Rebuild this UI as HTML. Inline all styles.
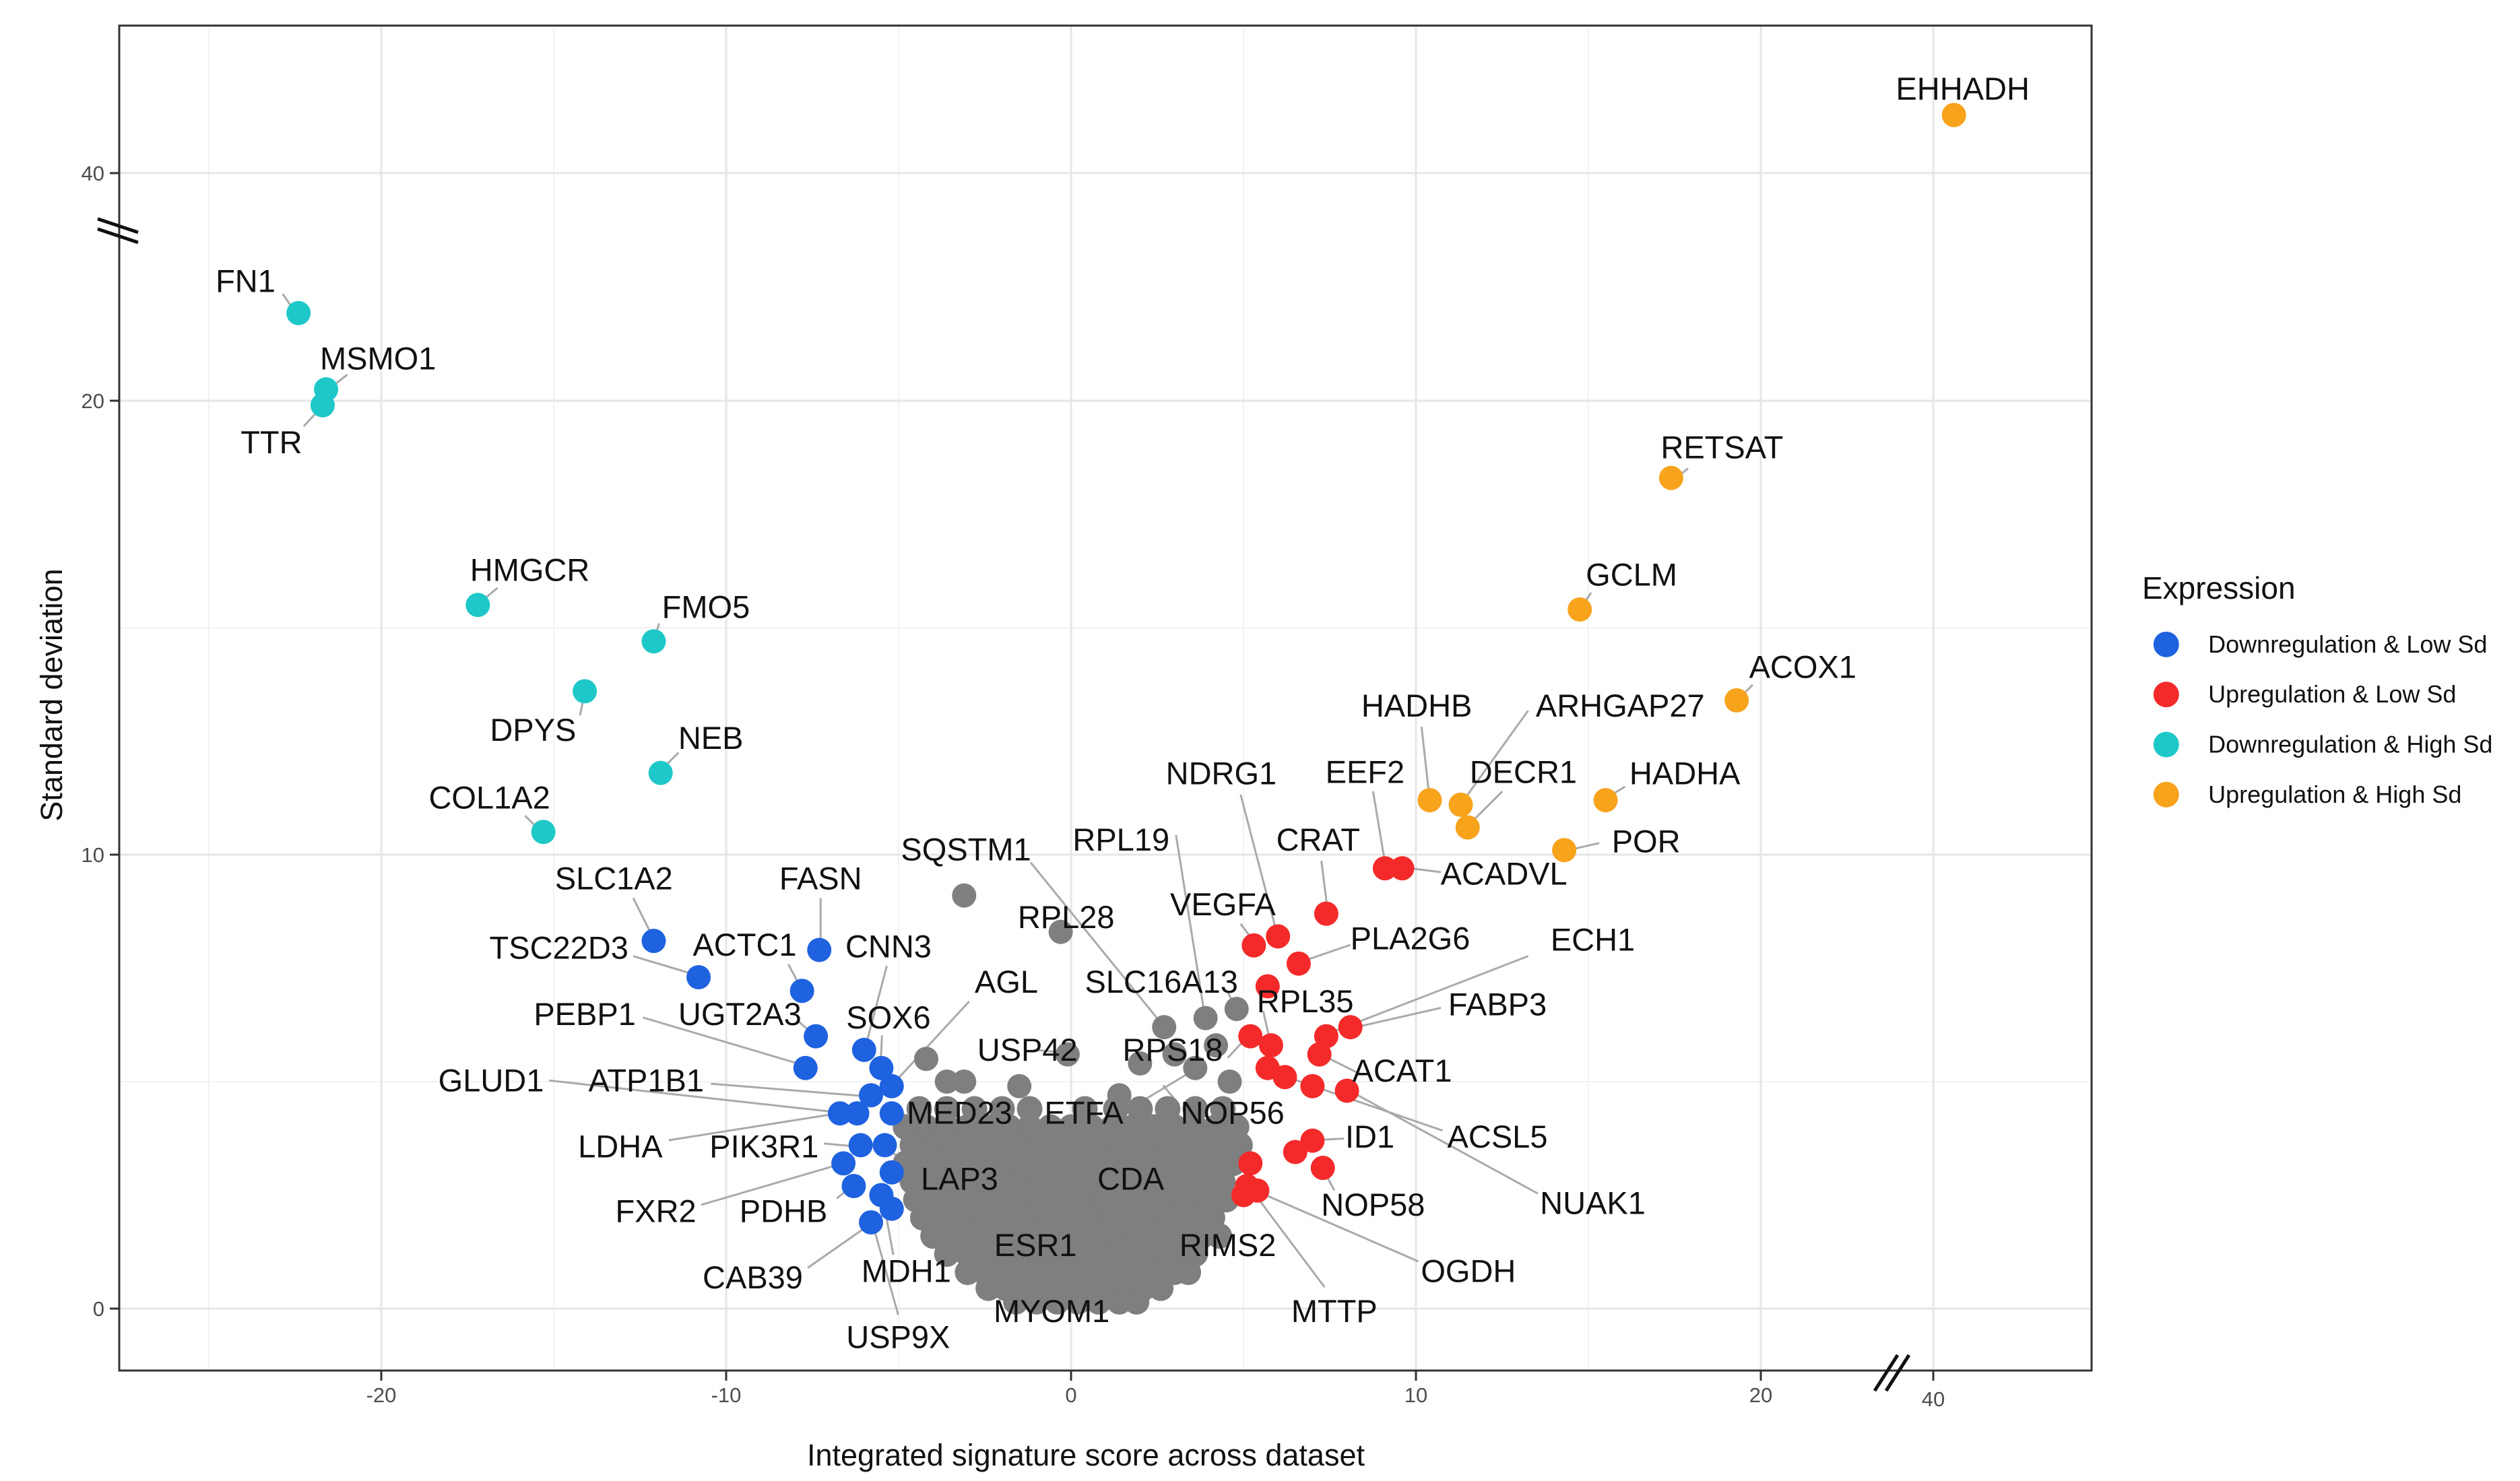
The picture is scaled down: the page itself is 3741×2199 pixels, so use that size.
<!DOCTYPE html>
<html><head><meta charset="utf-8"><style>
html,body{margin:0;padding:0;background:#fff;}
svg{display:block;font-family:"Liberation Sans",sans-serif;}
</style></head><body>
<svg id="chart" width="3741" height="2199" viewBox="0 0 3741 2199" xmlns="http://www.w3.org/2000/svg">
<rect x="0" y="0" width="3741" height="2199" fill="#fff"/>
<g id="grid"></g>
<g id="leaders"></g>
<g id="points"></g>
<g id="labels"></g>
<rect x="177" y="38" width="2928" height="1997" fill="none" stroke="#333" stroke-width="3"/>
<g id="axes"></g>
<text x="1612" y="2176" font-size="45" text-anchor="middle" fill="#111">Integrated signature score across dataset</text>
<text x="0" y="0" font-size="45" text-anchor="middle" fill="#111" transform="translate(92,1032) rotate(-90)">Standard deviation</text>
<g id="legend">
<text x="3180" y="889" font-size="46" fill="#111">Expression</text>
</g>
</svg>
<script>
// ---- data ----
const xTicks = [-20, -10, 0, 10, 20, 40];
const xTickLabels = ["-20", "-10", "0", "10", "20", "40"];
const xMinor = [-25, -15, -5, 5, 15];
const yTicks = [0, 10, 20, 40];
const yTickLabels = ["0", "10", "20", "40"];
const yMinor = [5, 15];
const groupNames = ["Downregulation & Low Sd", "Upregulation & Low Sd", "Downregulation & High Sd", "Upregulation & High Sd"];
const groupColors = ["#1f62e0", "#f42a2a", "#1fc8c8", "#f7a31c"];
const cyanX = [-22.4, -21.6, -21.7, -17.2, -12.1, -14.1, -11.9, -15.3];
const cyanY = [27.7, 21.0, 19.9, 15.5, 14.7, 13.6, 11.8, 10.5];
const orangeX = [42.4, 17.4, 14.75, 19.3, 10.4, 11.3, 11.5, 15.5, 14.3];
const orangeY = [45.1, 18.3, 15.4, 13.4, 11.2, 11.1, 10.6, 11.2, 10.1];
const redX = [9.1, 9.6, 7.4, 5.3, 6.0, 6.6, 5.7, 8.1, 7.4, 5.2, 5.8, 7.2, 5.7, 6.2, 7.0, 8.0, 7.0, 6.5, 7.3, 5.2, 5.1, 5.4, 5.0];
const redY = [9.7, 9.7, 8.7, 8.0, 8.2, 7.6, 7.1, 6.2, 6.0, 6.0, 5.8, 5.6, 5.3, 5.1, 4.9, 4.8, 3.7, 3.45, 3.1, 3.2, 2.7, 2.6, 2.5];
const blueX = [-12.1, -7.3, -10.8, -7.8, -7.4, -7.7, -6.0, -5.5, -5.2, -5.8, -6.7, -6.2, -5.2, -6.1, -5.4, -6.6, -5.2, -6.3, -5.5, -5.2, -5.8];
const blueY = [8.1, 7.9, 7.3, 7.0, 6.0, 5.3, 5.7, 5.3, 4.9, 4.7, 4.3, 4.3, 4.3, 3.6, 3.6, 3.2, 3.0, 2.7, 2.5, 2.2, 1.9];
const grayOutX = [-3.1, -0.3, 2.7, 3.9, 4.8, -0.1, -4.2, -3.6, -3.1, -1.5, 1.4, 2.0, 3.6, 4.6, 3.0, 4.2];
const grayOutY = [9.1, 8.3, 6.2, 6.4, 6.6, 5.6, 5.5, 5.0, 5.0, 4.9, 4.7, 5.4, 5.3, 5.0, 5.6, 5.8];
const grayRowY = [4.4, 4.0, 3.6, 3.2, 2.8, 2.4, 2.0, 1.6, 1.2, 0.8, 0.45, 0.15];
const grayRowX = [
 [-4.4, -3.6, -2.8, -2.0, -1.2, 0.4, 1.3, 2.0, 2.8, 3.6, 4.4],
 [-4.8, -4.2, -3.6, -3.0, -2.4, -1.8, -1.2, -0.6, 0, 0.6, 1.2, 1.8, 2.4, 3.0, 3.6, 4.2, 4.8],
 [-4.6, -4.0, -3.4, -2.8, -2.2, -1.6, -1.0, -0.4, 0.2, 0.8, 1.4, 2.0, 2.6, 3.2, 3.8, 4.4, 4.9],
 [-4.8, -4.2, -3.6, -3.0, -2.4, -1.8, -1.2, -0.6, 0, 0.6, 1.2, 1.8, 2.4, 3.0, 3.6, 4.2, 4.7],
 [-4.6, -4.0, -3.4, -2.8, -2.2, -1.6, -1.0, -0.4, 0.2, 0.8, 1.4, 2.0, 2.6, 3.2, 3.8, 4.4],
 [-4.5, -3.9, -3.3, -2.7, -2.1, -1.5, -0.9, -0.3, 0.3, 0.9, 1.5, 2.1, 2.7, 3.3, 3.9, 4.5],
 [-4.3, -3.7, -3.1, -2.5, -1.9, -1.3, -0.7, -0.1, 0.5, 1.1, 1.7, 2.3, 2.9, 3.5, 4.1],
 [-4.0, -3.4, -2.8, -2.2, -1.6, -1.0, -0.4, 0.2, 0.8, 1.4, 2.0, 2.6, 3.2, 3.8, 4.3],
 [-3.6, -3.0, -2.4, -1.8, -1.2, -0.6, 0, 0.6, 1.2, 1.8, 2.4, 3.0, 3.6],
 [-3.0, -2.5, -2.0, -1.5, -1.0, -0.5, 0, 0.5, 1.0, 1.5, 2.0, 2.5, 3.0, 3.4],
 [-2.4, -1.9, -1.4, -0.9, -0.4, 0.1, 0.6, 1.1, 1.6, 2.1, 2.6],
 [-1.6, -1.0, -0.4, 0.2, 0.8, 1.4, 1.9]
];
// label annotations (reference-display units, scaled below)
const labelText = ["EHHADH","FN1","MSMO1","TTR","HMGCR","FMO5","DPYS","NEB","COL1A2","SLC1A2","FASN","TSC22D3","ACTC1","CNN3","PEBP1","UGT2A3","SOX6","AGL","USP42","GLUD1","ATP1B1","LDHA","PIK3R1","MED23","ETFA","NOP56","FXR2","PDHB","LAP3","CDA","ID1","NOP58","ACSL5","NUAK1","OGDH","MTTP","RIMS2","ESR1","CAB39","MDH1","USP9X","MYOM1","RPS18","RPL35","SLC16A13","FABP3","ECH1","ACAT1","PLA2G6","VEGFA","CRAT","NDRG1","RPL19","SQSTM1","RPL28","EEF2","ACADVL","HADHB","ARHGAP27","DECR1","HADHA","POR","ACOX1","GCLM","RETSAT"];
const labelPos = [[1215,55],[152,174],[234,222],[168,274],[328,353],[437,376],[330,452],[440,457],[303,494],[380,544],[508,544],[346,587],[461,585],[550,586],[362,628],[458,628],[550,630],[623,608],[636,650],[304,669],[400,669],[384,710],[473,710],[594,689],[671,689],[763,689],[406,750],[485,750],[594,730],[700,730],[848,704],[850,746],[927,704],[986,745],[909,787],[826,812],[760,771],[641,771],[466,791],[561,787],[556,828],[651,812],[726,650],[808,620],[719,608],[927,622],[986,582],[868,663],[873,581],[757,560],[816,520],[756,479],[694,520],[598,526],[660,568],[845,478],[931,541],[877,437],[1003,437],[943,478],[1043,479],[1019,521],[1116,413],[1010,356],[1066,277]];
const leaderSeg = [[1212,66,1210,72],[175,182,184,195],[215,232,202,242],[188,264,200,251],[308,364,296,374],[408,386,405,396],[359,443,362,429],[420,466,408,478],[325,505,336,516],[392,556,405,582],[508,556,508,587],[392,592,432,604],[488,597,497,614],[549,598,535,651],[398,630,499,660],[494,632,505,642],[546,641,545,662],[600,620,553,671],[640,650,660,652],[340,669,521,689],[440,671,539,679],[414,706,521,689],[510,708,532,710],[560,690,553,690],[700,686,740,662],[730,684,720,672],[434,746,523,720],[518,742,529,733],[566,726,552,725],[728,726,775,720],[832,705,812,706],[826,737,818,722],[893,700,797,667],[952,739,833,674],[878,781,779,738],[820,797,772,733],[740,762,735,755],[612,762,548,710],[500,785,553,748],[553,777,546,739],[556,814,540,757],[614,800,553,690],[760,655,773,641],[782,626,787,648],[760,614,765,625],[892,624,835,637],[946,592,822,640],[842,665,818,653],[836,585,804,596],[768,572,777,584],[818,533,822,565],[768,492,791,580],[728,517,746,630],[638,534,720,635],[658,576,657,576],[850,490,858,538],[892,540,868,537],[880,450,885,495],[946,440,905,497],[930,490,909,511],[1006,487,993,495],[990,522,968,527],[1085,424,1075,434],[985,367,978,377],[1045,290,1035,298]];

// ---- scales ----
const S = 3741 / 1560;
function xs(v) { return v <= 20 ? 1590 + v * 51.2 : 2614 + (v - 20) * 12.8; }
function ys(v) { return v <= 20 ? 1943 - v * 67.4 : 595 - (v - 20) * 16.9; }
const NS = "http://www.w3.org/2000/svg";
function mk(tag, attrs, parent) {
  const e = document.createElementNS(NS, tag);
  for (const k in attrs) e.setAttribute(k, attrs[k]);
  parent.appendChild(e);
  return e;
}
const grid = document.getElementById('grid');
const axes = document.getElementById('axes');
xMinor.forEach(v => { const l = mk('line', {x1: xs(v), x2: xs(v), y1: 38, y2: 2035, stroke: '#f2f2f2', 'stroke-width': 2}, grid);
  
   });
yMinor.forEach(v => { const l = mk('line', {x1: 177, x2: 3105, y1: ys(v), y2: ys(v), stroke: '#f2f2f2', 'stroke-width': 2}, grid);
  
   });
xTicks.forEach((v, i) => {
  const l = mk('line', {x1: xs(v), x2: xs(v), y1: 38, y2: 2035, stroke: '#e6e6e6', 'stroke-width': 3}, grid);
  
  
  const t = mk('line', {x1: xs(v), x2: xs(v), y1: 2035, y2: 2050, stroke: '#333', 'stroke-width': 3}, axes);
  
  
  const tx = mk('text', {x: xs(v), y: v === 40 ? 2088 : 2082, 'font-size': 31, 'text-anchor': 'middle', fill: '#4d4d4d'}, axes);
  tx.textContent = xTickLabels[i];
  
  
});
yTicks.forEach((v, i) => {
  const l = mk('line', {x1: 177, x2: 3105, y1: ys(v), y2: ys(v), stroke: '#e6e6e6', 'stroke-width': 3}, grid);
  
  
  const t = mk('line', {x1: 163, x2: 177, y1: ys(v), y2: ys(v), stroke: '#333', 'stroke-width': 3}, axes);
  
  
  const tx = mk('text', {x: 155, y: ys(v) + 11, 'font-size': 31, 'text-anchor': 'end', fill: '#4d4d4d'}, axes);
  tx.textContent = yTickLabels[i];
  
  
});
// axis break marks
[[145, 325, 205, 345], [145, 340, 205, 360]].forEach(b => {
  const l = mk('line', {x1: b[0], y1: b[1], x2: b[2], y2: b[3], stroke: '#111', 'stroke-width': 5}, axes);
  
  
});
[[2783, 2065, 2817, 2012], [2800, 2065, 2834, 2012]].forEach(b => {
  const l = mk('line', {x1: b[0], y1: b[1], x2: b[2], y2: b[3], stroke: '#111', 'stroke-width': 5}, axes);
  
  
});
// leaders
const leaders = document.getElementById('leaders');
leaderSeg.forEach(s => {
  const l = mk('line', {x1: s[0] * S, y1: s[1] * S, x2: s[2] * S, y2: s[3] * S, stroke: '#aaaaaa', 'stroke-width': 3}, leaders);
  
  
});
// points
const pts = document.getElementById('points');
const R = 18;
grayRowY.forEach((y, r) => grayRowX[r].forEach(x => {
  const c = mk('circle', {cx: xs(x), cy: ys(y), r: R + 1, fill: '#7f7f7f'}, pts);
  
  
}));
grayOutX.forEach((x, i) => {
  const c = mk('circle', {cx: xs(x), cy: ys(grayOutY[i]), r: R, fill: '#7f7f7f'}, pts);
  
  
});
[[blueX, blueY, 0, 'point-down-low-sd'], [redX, redY, 1, 'point-up-low-sd'], [cyanX, cyanY, 2, 'point-down-high-sd'], [orangeX, orangeY, 3, 'point-up-high-sd']].forEach(g => {
  g[0].forEach((x, i) => {
    const c = mk('circle', {cx: xs(x), cy: ys(g[1][i]), r: R, fill: groupColors[g[2]]}, pts);
    
    
  });
});
// labels
const labels = document.getElementById('labels');
labelText.forEach((t, i) => {
  const tx = mk('text', {x: labelPos[i][0] * S, y: labelPos[i][1] * S + 16, 'font-size': 47, 'text-anchor': 'middle', fill: '#111'}, labels);
  tx.textContent = t;
  
  
});
// legend
const legend = document.getElementById('legend');
groupNames.forEach((n, i) => {
  const cy = (399 + i * 31) * S;
  const c = mk('circle', {cx: 1341 * S, cy: cy, r: 19, fill: groupColors[i]}, legend);
  
  
  const tx = mk('text', {x: 1367 * S, y: cy + 12, 'font-size': 36, fill: '#111'}, legend);
  tx.textContent = n;
  
  
});
</script>
</body></html>
